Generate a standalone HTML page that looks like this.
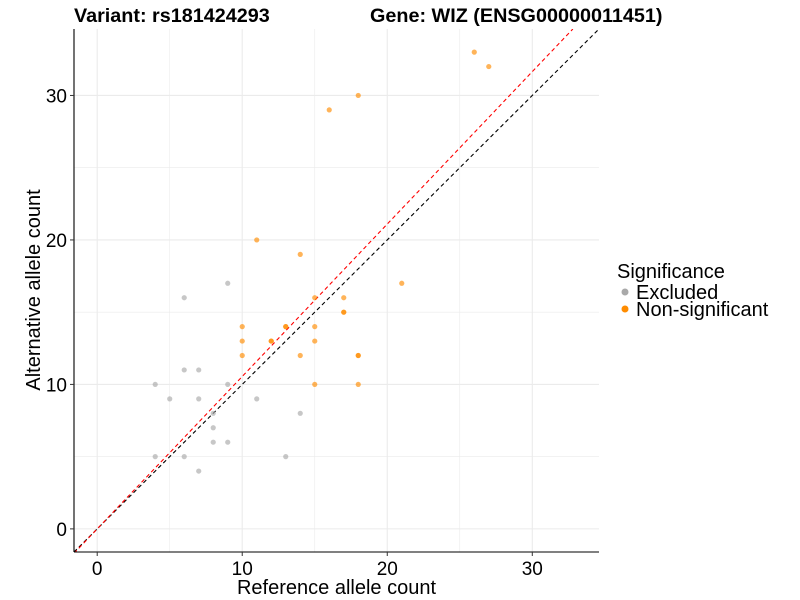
<!DOCTYPE html>
<html><head><meta charset="utf-8"><style>
body{margin:0;background:#fff;font-family:"Liberation Sans",sans-serif;}
svg{display:block}
</style></head><body>
<svg id="chart" width="800" height="600" xmlns="http://www.w3.org/2000/svg">
<text x="74" y="22" font-size="19.8" font-weight="bold" font-family="Liberation Sans, sans-serif">Variant: rs181424293</text>
<text x="370" y="22" font-size="19.8" font-weight="bold" font-family="Liberation Sans, sans-serif">Gene: WIZ (ENSG00000011451)</text>
<g id="grid"></g>
<g id="lines"></g>
<g id="points"></g>
<g id="axes"></g>
<text x="336.5" y="594" font-size="20" text-anchor="middle" font-family="Liberation Sans, sans-serif">Reference allele count</text>
<text transform="translate(40,290) rotate(-90)" font-size="20" text-anchor="middle" font-family="Liberation Sans, sans-serif">Alternative allele count</text>
<g>
<text x="617" y="278" font-size="20" font-family="Liberation Sans, sans-serif">Significance</text>
<circle cx="625" cy="292" r="3.5" fill="#A9A9A9"/>
<text x="636" y="299" font-size="20" font-family="Liberation Sans, sans-serif">Excluded</text>
<circle cx="625" cy="309" r="3.5" fill="#FF8C00"/>
<text x="636" y="316" font-size="20" font-family="Liberation Sans, sans-serif">Non-significant</text>
</g>
</svg>
<script>
const excludedX=[4,5,6,7,7,9,8,8,8,9,4,6,7,11,14,13,6,9];
const excludedY=[10,9,11,11,9,10,8,7,6,6,5,5,4,9,8,5,16,17];
const nonsigX=[10,10,10,12,12,13,15,15,14,18,18,15,18,17,17,26,27,18,16,11,14,21,17,15,13];
const nonsigY=[14,13,12,13,13,14,14,13,12,12,12,10,10,15,15,33,32,30,29,20,19,17,16,16,14];
const xTicks=[0,10,20,30];
const yTicks=[0,10,20,30];
const minorTicks=[5,15,25];
const redSlope=1.055;
const NS="http://www.w3.org/2000/svg";
const L=74,R=599,T=29,B=552,D0=-1.6,D1=34.6;
function sx(v){return L+(v-D0)/(D1-D0)*(R-L);}
function sy(v){return B-(v-D0)/(D1-D0)*(B-T);}
function mk(tag,attrs,parent){const e=document.createElementNS(NS,tag);for(const k in attrs)e.setAttribute(k,attrs[k]);parent.appendChild(e);return e;}
const grid=document.getElementById('grid');
minorTicks.concat(xTicks).forEach((t,i)=>{
 const maj=xTicks.includes(t);
 const a=mk('line',{x1:sx(t),x2:sx(t),y1:T,y2:B,stroke:'#ebebeb','stroke-width':maj?1.1:0.6},grid);
 
 const b=mk('line',{x1:L,x2:R,y1:sy(t),y2:sy(t),stroke:'#ebebeb','stroke-width':maj?1.1:0.6},grid);
 
});
const lines=document.getElementById('lines');
const cp=mk('clipPath',{id:'pc'},document.getElementById('chart'));
mk('rect',{x:L,y:T,width:R-L,height:B-T},cp);
lines.setAttribute('clip-path','url(#pc)');
const idl=mk('line',{x1:sx(D0),y1:sy(D0),x2:sx(D1),y2:sy(D1),stroke:'#000','stroke-width':1.1,'stroke-dasharray':'4,3'},lines);

const rl=mk('line',{x1:sx(D0),y1:sy(D0*redSlope),x2:sx(D1/redSlope),y2:sy(D1),stroke:'#ff0000','stroke-width':1.1,'stroke-dasharray':'4,3'},lines);

const pts=document.getElementById('points');
excludedX.forEach((x,i)=>{const c=mk('circle',{cx:sx(x),cy:sy(excludedY[i]),r:2.6,fill:'#A9A9A9','fill-opacity':0.65},pts);
});
nonsigX.forEach((x,i)=>{const c=mk('circle',{cx:sx(x),cy:sy(nonsigY[i]),r:2.6,fill:'#FF8C00','fill-opacity':0.65},pts);
});
const ax=document.getElementById('axes');
mk('line',{x1:L,x2:L,y1:T,y2:B,stroke:'#000','stroke-width':1.1},ax);
mk('line',{x1:L,x2:R,y1:B,y2:B,stroke:'#000','stroke-width':1.1},ax);
xTicks.forEach(t=>{mk('line',{x1:sx(t),x2:sx(t),y1:B,y2:B+4,stroke:'#333'},ax);
 const tx=mk('text',{x:sx(t),y:B+23,'font-size':19,'text-anchor':'middle','font-family':'Liberation Sans, sans-serif'},ax);tx.textContent=t;
 });
yTicks.forEach(t=>{mk('line',{x1:L-4,x2:L,y1:sy(t),y2:sy(t),stroke:'#333'},ax);
 const tx=mk('text',{x:L-7,y:sy(t)+7,'font-size':19,'text-anchor':'end','font-family':'Liberation Sans, sans-serif'},ax);tx.textContent=t;
 });
</script>
</body></html>
